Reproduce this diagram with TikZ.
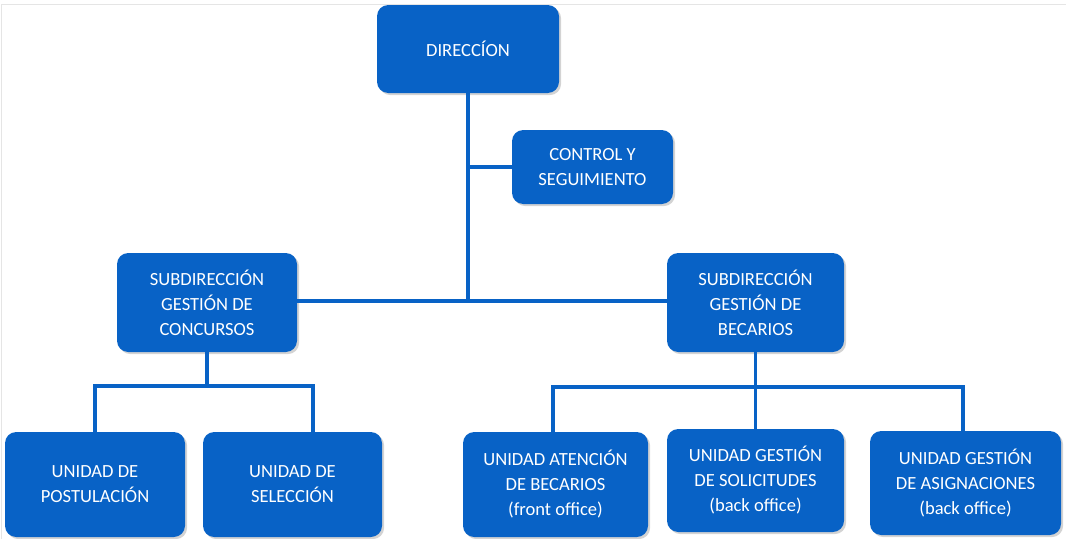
\documentclass[tikz,border=0pt]{standalone}
\usepackage{fontspec}
\setmainfont{Carlito}
\usetikzlibrary{calc,shadows}
\definecolor{orgblue}{RGB}{8,98,198}
\tikzset{
  unit/.style={rectangle, rounded corners=8pt, fill=orgblue, text=white,
    align=center, inner sep=2pt, font=\fontsize{13.2}{17.8}\selectfont,
    drop shadow={opacity=0.35, shadow xshift=1.5pt, shadow yshift=-1.5pt}},
  link/.style={draw=orgblue, line width=2.6pt}
}

\begin{document}
\begin{tikzpicture}[x=0.025cm, y=-0.025cm]
  \useasboundingbox (0,0) rectangle (1066,539);
  \draw[gray!20] (1,539) -- (1,4) -- (1066,4);
  % top level
  \node[unit, minimum width=182*0.025cm, minimum height=88*0.025cm] (dir) at (468,49) {DIRECCÍON};
  \node[unit, minimum width=161*0.025cm, minimum height=74*0.025cm] (ctrl) at (592.5,167) {CONTROL Y\\SEGUIMIENTO};
  % subdirecciones
  \node[unit, minimum width=180*0.025cm, minimum height=99*0.025cm] (subc) at (207,302.5) {SUBDIRECCIÓN\\GESTIÓN DE\\CONCURSOS};
  \node[unit, minimum width=177*0.025cm, minimum height=99*0.025cm] (subb) at (755.5,302.5) {SUBDIRECCIÓN\\GESTIÓN DE\\BECARIOS};
  % unidades
  \node[unit, minimum width=180*0.025cm, minimum height=105*0.025cm] (post) at (95,484.5) {UNIDAD DE\\POSTULACIÓN};
  \node[unit, minimum width=179*0.025cm, minimum height=105*0.025cm] (sel) at (292.5,484.5) {UNIDAD DE\\SELECCIÓN};
  \node[unit, minimum width=185*0.025cm, minimum height=105*0.025cm] (aten) at (555.5,484.5) {UNIDAD ATENCIÓN\\DE BECARIOS\\(front office)};
  \node[unit, minimum width=177*0.025cm, minimum height=103*0.025cm] (soli) at (755.5,480.5) {UNIDAD GESTIÓN\\DE SOLICITUDES\\(back office)};
  \node[unit, minimum width=191*0.025cm, minimum height=104*0.025cm] (asig) at (965.5,483) {UNIDAD GESTIÓN\\DE ASIGNACIONES\\(back office)};
  % connectors
  \coordinate (trunk) at ($(dir.south)+(0,208)$);
  \draw[link] (dir.south) -- (trunk);
  \draw[link] (dir.south |- ctrl.west) -- (ctrl.west);
  \draw[link] (subc.east |- trunk) -- (subb.west |- trunk);
  \draw[link] (subc.south) -- ++(0,33.5) coordinate (jc);
  \draw[link] (post.north) |- (jc) -| ($(sel.north)+(20.5,0)$);
  \draw[link] (subb.south) -- ++(0,35) coordinate (jb);
  \draw[link] ($(aten.north)+(-2.5,0)$) |- (jb) -| ($(asig.north)+(-2.5,0)$);
  \draw[link] (jb) -- (soli.north);
\end{tikzpicture}
\end{document}
